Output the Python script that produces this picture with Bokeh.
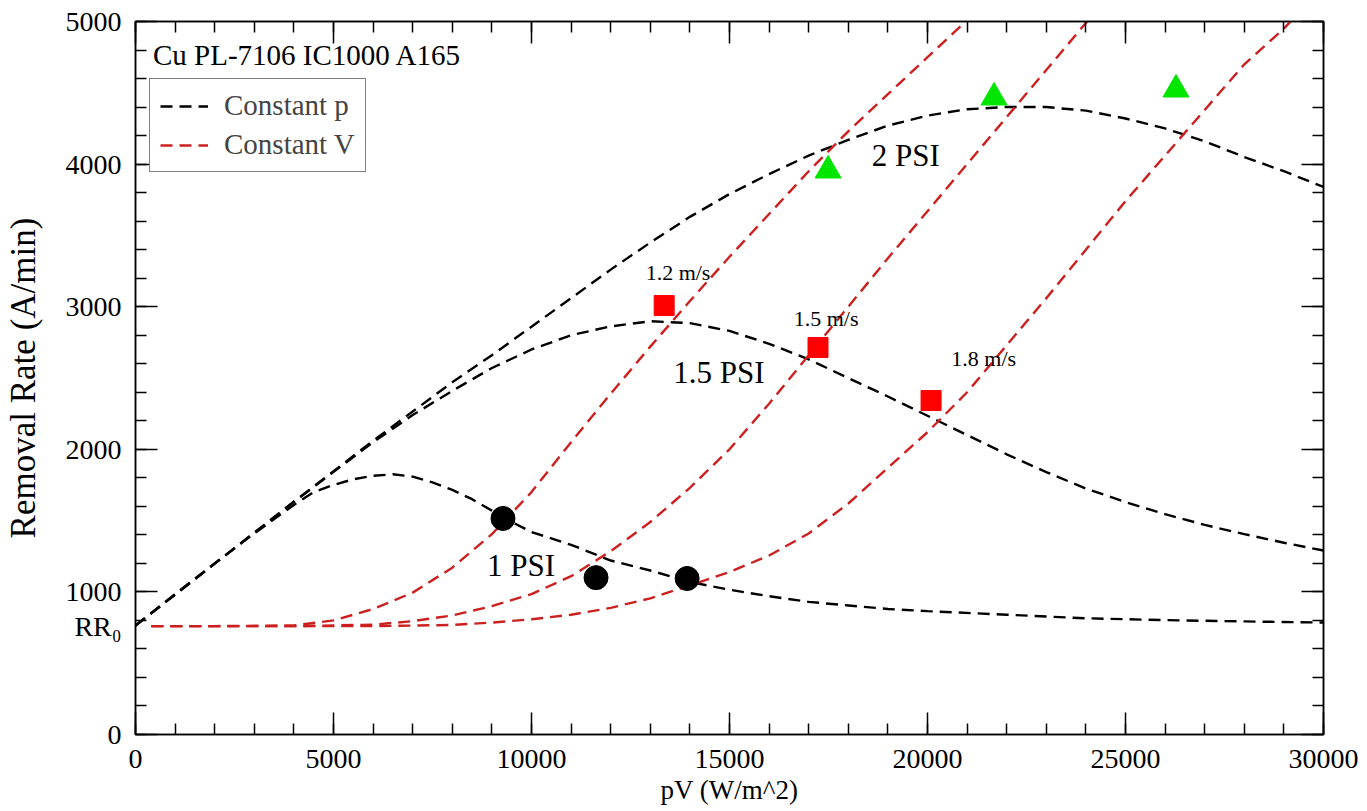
from bokeh.plotting import figure
from bokeh.models import (LinearAxis, SingleIntervalTicker, FixedTicker, Range1d, Label, Legend,
                          LegendItem, CustomJSTickFormatter)
from bokeh.embed import file_html
from bokeh.resources import INLINE

FONT = "Liberation Serif"

# ---- model curves: constant pressure (black) ----
pv_1psi = [0, 1000, 2000, 3000, 4000, 4500, 5000, 5500, 6000, 6500, 7000, 7500, 8000, 8500,
           9000, 9500, 10000, 11000, 12000, 13000, 14000, 15000, 16000, 17000, 18000, 19000,
           20000, 22000, 24000, 26000, 28000, 30000]
rr_1psi = [764, 985, 1200, 1410, 1610, 1700, 1750, 1790, 1814, 1825, 1808, 1768, 1715, 1650,
           1570, 1490, 1420, 1330, 1220, 1150, 1070, 1015, 970, 930, 905, 880,
           865, 840, 815, 802, 793, 785]

pv_15psi = [0, 2000, 4000, 6000, 7000, 8000, 9000, 10000, 11000, 12000, 13000, 14000, 15000,
            16000, 17000, 18000, 19000, 20000, 21000, 22000, 23000, 24000, 25000, 26000, 27000,
            28000, 29000, 30000]
rr_15psi = [764, 1198, 1632, 2050, 2240, 2410, 2570, 2700, 2800, 2862, 2898, 2885, 2830,
            2740, 2630, 2500, 2370, 2235, 2100, 1965, 1840, 1725, 1630, 1545, 1470,
            1405, 1345, 1290]

pv_2psi = [0, 2000, 4000, 6000, 8000, 9000, 10000, 11000, 12000, 13000, 14000, 15000, 16000,
           17000, 18000, 19000, 20000, 21000, 22000, 23000, 24000, 25000, 26000, 27000, 28000,
           29000, 30000]
rr_2psi = [764, 1198, 1632, 2060, 2470, 2660, 2860, 3060, 3260, 3450, 3630, 3790, 3930,
           4060, 4170, 4270, 4340, 4385, 4400, 4400, 4375, 4320, 4250, 4160, 4050,
           3950, 3840]

# ---- model curves: constant velocity (red) ----
pv_12ms = [400, 2000, 4000, 5000, 6000, 7000, 8000, 9000, 10000, 11000, 12000, 13000, 14000,
           15000, 16000, 17000, 18000, 19000, 20000, 21000]
rr_12ms = [760, 760, 765, 800, 880, 995, 1170, 1405, 1700, 2050, 2390, 2720, 3040,
           3350, 3650, 3950, 4230, 4490, 4750, 5010]

pv_15ms = [400, 4000, 6000, 7000, 8000, 9000, 10000, 11000, 12000, 13000, 14000, 15000, 16000,
           17000, 18000, 19000, 20000, 21000, 22000, 23000, 24000, 24100]
rr_15ms = [760, 760, 770, 795, 835, 900, 985, 1110, 1285, 1490, 1730, 2000, 2320,
           2660, 3000, 3340, 3670, 4000, 4330, 4660, 4990, 5020]

pv_18ms = [400, 6000, 8000, 9000, 10000, 11000, 12000, 13000, 14000, 15000, 16000, 17000,
           18000, 19000, 20000, 21000, 22000, 23000, 24000, 25000, 26000, 27000, 28000, 29000,
           29200]
rr_18ms = [760, 760, 768, 785, 808, 840, 888, 955, 1045, 1140, 1255, 1410,
           1620, 1870, 2120, 2400, 2730, 3060, 3400, 3740, 4060, 4380, 4700, 4950,
           5010]

# ---- measured points ----
pv_meas_1psi = [9280, 11630, 13930]
rr_meas_1psi = [1515, 1100, 1094]
pv_meas_15psi = [13350, 17235, 20090]
rr_meas_15psi = [3008, 2714, 2342]
pv_meas_2psi = [17490, 21680, 26275]
rr_meas_2psi = [3955, 4467, 4523]

# ---- y-axis labels (RR0 marks the base removal rate) ----
rr0 = 760
y_label_ticks = [0, rr0, 1000, 2000, 3000, 4000, 5000]

# ---- annotations ----
ann_text = ["Cu PL-7106 IC1000 A165", "2 PSI", "1.5 PSI", "1 PSI", "1.2 m/s", "1.5 m/s", "1.8 m/s"]
ann_x = [442, 19450, 14730, 9735, 13700, 17440, 21420]
ann_y = [4762, 4060, 2539, 1185, 3240, 2917, 2637]
ann_size = ["29px", "31px", "31px", "31px", "22px", "22px", "22px"]
ann_align = ["left", "center", "center", "center", "center", "center", "center"]

RED = "#cc2020"
BLACK = "#000000"
DASH = "12 7"

p = figure(width=1367, height=811, x_range=Range1d(0, 30000), y_range=Range1d(0, 5000),
           output_backend="svg", toolbar_location=None,
           min_border_left=134, min_border_right=44, min_border_top=21, min_border_bottom=77,
           x_axis_label="pV (W/m^2)")
p.grid.visible = False
p.outline_line_color = "black"
p.outline_line_width = 1.5
p.background_fill_color = "white"
p.border_fill_color = "white"

blank = CustomJSTickFormatter(code="return ''")

def style_ticks(ax):
    ax.axis_line_color = "black"
    ax.axis_line_width = 1.5
    ax.major_tick_in = 22
    ax.major_tick_out = 0
    ax.minor_tick_in = 11
    ax.minor_tick_out = 0
    ax.major_tick_line_width = 1.5
    ax.minor_tick_line_width = 1.5
    ax.major_label_text_font = FONT
    ax.major_label_text_font_size = "28px"
    ax.major_label_text_color = "black"
    ax.axis_label_text_font = FONT
    ax.axis_label_text_font_style = "normal"
    ax.axis_label_text_color = "black"

# bottom axis
xax = p.xaxis[0]
xax.ticker = SingleIntervalTicker(interval=5000, num_minor_ticks=5)
style_ticks(xax)
xax.axis_label_text_font_size = "27px"
xax.major_label_standoff = 15
xax.axis_label_standoff = 4

# left axis adjacent to the frame: ticks only
ytk = p.yaxis[0]
ytk.ticker = SingleIntervalTicker(interval=1000, num_minor_ticks=5)
ytk.formatter = blank
style_ticks(ytk)
ytk.major_label_text_font_size = "1px"
ytk.major_label_standoff = 0

# left axis with the labels (including RR0)
ylab = LinearAxis(ticker=FixedTicker(ticks=y_label_ticks, minor_ticks=[]),
                  axis_label="Removal Rate (A/min)",
                  major_label_overrides={rr0: "RR\u2080"})
style_ticks(ylab)
ylab.axis_line_color = None
ylab.major_tick_line_color = None
ylab.minor_tick_line_color = None
ylab.major_tick_in = 0
ylab.minor_tick_in = 0
ylab.major_label_standoff = 14
ylab.axis_label_standoff = 20
ylab.axis_label_text_font_size = "35px"
p.add_layout(ylab, "left")

top = LinearAxis(ticker=SingleIntervalTicker(interval=5000, num_minor_ticks=5), formatter=blank)
right = LinearAxis(ticker=SingleIntervalTicker(interval=1000, num_minor_ticks=5), formatter=blank)
for ax in (top, right):
    style_ticks(ax)
    ax.major_label_text_font_size = "1px"
    ax.major_label_standoff = 0
p.add_layout(top, "above")
p.add_layout(right, "right")

lw = 2.4
r_black = p.line(pv_1psi, rr_1psi, line_color=BLACK, line_width=lw, line_dash=DASH)
p.line(pv_15psi, rr_15psi, line_color=BLACK, line_width=lw, line_dash=DASH)
p.line(pv_2psi, rr_2psi, line_color=BLACK, line_width=lw, line_dash=DASH)
r_red = p.line(pv_12ms, rr_12ms, line_color=RED, line_width=lw, line_dash=DASH)
p.line(pv_15ms, rr_15ms, line_color=RED, line_width=lw, line_dash=DASH)
p.line(pv_18ms, rr_18ms, line_color=RED, line_width=lw, line_dash=DASH)

p.scatter(pv_meas_1psi, rr_meas_1psi, marker="circle", size=24, fill_color="black", line_color="black")
p.scatter(pv_meas_15psi, rr_meas_15psi, marker="square", size=20, fill_color="#ff0000", line_color="#ff0000")
p.scatter(pv_meas_2psi, rr_meas_2psi, marker="triangle", size=26, fill_color="#00e600", line_color="#00e600")

for t, x, y, s, a in zip(ann_text, ann_x, ann_y, ann_size, ann_align):
    p.add_layout(Label(x=x, y=y, text=t, text_font=FONT, text_font_size=s,
                       text_align=a, text_baseline="middle", text_color="black"))

legend = Legend(items=[LegendItem(label="Constant p", renderers=[r_black]),
                       LegendItem(label="Constant V", renderers=[r_red])],
                location=(14, 562))
legend.border_line_color = "black"
legend.border_line_width = 1.5
legend.label_text_font = FONT
legend.label_text_font_size = "29px"
legend.glyph_width = 48
legend.glyph_height = 30
legend.spacing = 6
legend.padding = 10
legend.margin = 0
legend.label_standoff = 16
legend.background_fill_alpha = 1
p.add_layout(legend)

open("out.html", "w").write(file_html(p, INLINE))
